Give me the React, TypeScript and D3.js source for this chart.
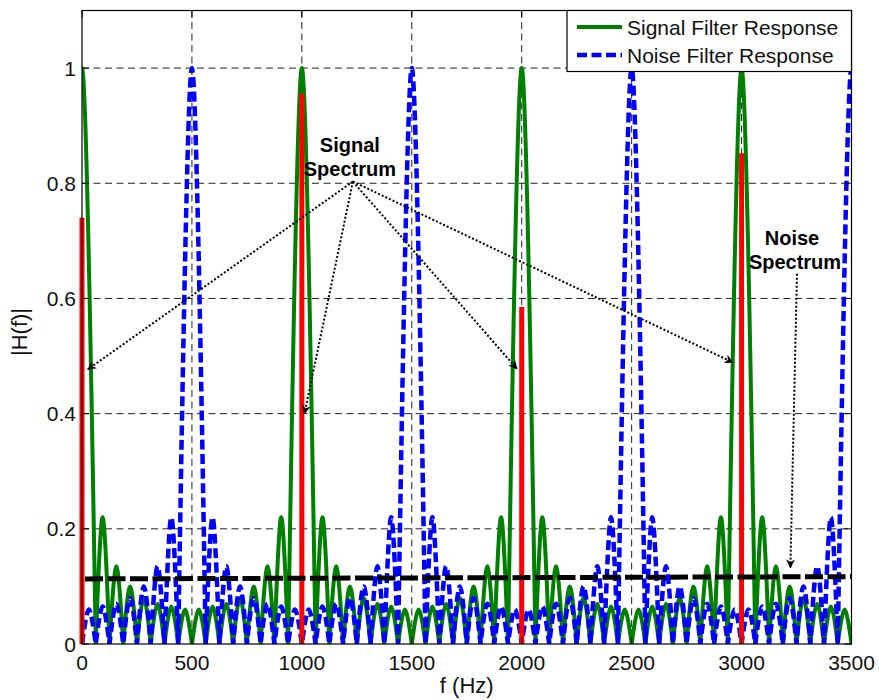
import React from "react";
import * as d3 from "d3";

const xTicks = [0, 500, 1000, 1500, 2000, 2500, 3000, 3500];
const yTicks = [0, 0.2, 0.4, 0.6, 0.8, 1];

// spacing between zeros of the filter responses (Hz); main lobes are two steps wide
const lobeStep = 62.5;

// signal filter response, lobe peaks read left to right starting at -62.5 Hz
const signalStart = -62.5;
const signalLobes = [
  1, 0.22, 0.135, 0.1, 0.08, 0.07, 0.065, 0.06, 0.06, 0.065, 0.07, 0.08, 0.1, 0.135, 0.22,
  1, 0.22, 0.135, 0.1, 0.08, 0.07, 0.065, 0.06, 0.06, 0.065, 0.07, 0.08, 0.1, 0.135, 0.22,
  1, 0.22, 0.135, 0.1, 0.08, 0.07, 0.065, 0.06, 0.06, 0.065, 0.07, 0.08, 0.1, 0.135, 0.22,
  1, 0.22, 0.135, 0.1, 0.08, 0.07, 0.065, 0.06,
];

// noise filter response, lobe peaks starting at 0 Hz
const noiseStart = 0;
const noiseLobes = [
  0.06, 0.065, 0.07, 0.08, 0.1, 0.135, 0.22,
  1, 0.22, 0.135, 0.1, 0.08, 0.07, 0.065, 0.06, 0.06, 0.065, 0.07, 0.08, 0.1, 0.135, 0.22,
  1, 0.22, 0.135, 0.1, 0.08, 0.07, 0.065, 0.06, 0.06, 0.065, 0.07, 0.08, 0.1, 0.135, 0.22,
  1, 0.22, 0.135, 0.1, 0.08, 0.07, 0.065, 0.06, 0.06, 0.065, 0.07, 0.08, 0.1, 0.135, 0.22,
  1,
];

// signal spectrum lines
const spectrumFreqs = [0, 1000, 2000, 3000];
const spectrumValues = [0.74, 0.956, 0.585, 0.852];

// noise spectrum level
const noiseFloorFreqs = [0, 3500];
const noiseFloorValues = [0.113, 0.117];

// annotation arrows (data coords): label anchor -> tips
const signalArrowFrom: [number, number] = [1232, 0.803];
const signalArrowTips: [number, number][] = [
  [27, 0.477],
  [1012, 0.4],
  [1978, 0.478],
  [2960, 0.489],
];
const noiseArrowFrom: [number, number] = [3252, 0.643];
const noiseArrowTip: [number, number] = [3222, 0.133];

const W = 879;
const H = 700;
const m = { left: 82, right: 851.5, top: 10.5, bottom: 644 };
const font = "'Liberation Sans', Arial, Helvetica, sans-serif";

const App = () => {
  const x = d3.scaleLinear().domain([0, 3500]).range([m.left, m.right]);
  const y = d3.scaleLinear().domain([0, 1.1]).range([m.bottom, m.top]);

  // each lobe drawn as an arch between two zeros
  const lobePath = (start: number, lobes: number[]) => {
    const p = d3.path();
    let f = start;
    const base = y(0);
    p.moveTo(x(f), base);
    lobes.forEach((h) => {
      const w = h > 0.9 ? 2 * lobeStep : lobeStep;
      const a = x(f);
      const b = x(f + w);
      const pw = b - a;
      const top = y(h);
      const c1 = base + (top - base) * 0.5;
      p.bezierCurveTo(a + 0.17 * pw, c1, a + 0.36 * pw, top, a + pw / 2, top);
      p.bezierCurveTo(b - 0.36 * pw, top, b - 0.17 * pw, c1, b, base);
      f += w;
    });
    return p.toString();
  };

  const floorLine = d3
    .line<number>()
    .x((d, i) => x(noiseFloorFreqs[i]))
    .y((d) => y(d));

  return (
    <svg
      width={W}
      height={H}
      style={{ position: "absolute", left: 0, top: 0, background: "#fff" }}
      fontFamily={font}
    >
      <defs>
        <clipPath id="plot">
          <rect x={m.left} y={m.top} width={m.right - m.left} height={m.bottom - m.top} />
        </clipPath>
        <marker
          id="head"
          viewBox="0 0 10 10"
          refX="9"
          refY="5"
          markerWidth="9"
          markerHeight="9"
          markerUnits="userSpaceOnUse"
          orient="auto"
        >
          <path d="M0,0 L10,5 L0,10 L3,5 Z" fill="#000" />
        </marker>
      </defs>

      {/* grid */}
      {xTicks.slice(1, -1).map((t) => (
        <line
          key={"gx" + t}
          x1={x(t)}
          x2={x(t)}
          y1={m.top}
          y2={m.bottom}
          stroke="#222"
          strokeWidth={1}
          strokeDasharray="7,4.5"
        />
      ))}
      {yTicks.slice(1).map((t) => (
        <line
          key={"gy" + t}
          x1={m.left}
          x2={m.right}
          y1={y(t)}
          y2={y(t)}
          stroke="#222"
          strokeWidth={1}
          strokeDasharray="7,4.5"
        />
      ))}

      <g clipPath="url(#plot)">
        <path d={lobePath(signalStart, signalLobes)} fill="none" stroke="#008000" strokeWidth={4} />
        <path
          d={lobePath(noiseStart, noiseLobes)}
          fill="none"
          stroke="#0000ff"
          strokeWidth={4.5}
          strokeDasharray="10,4.5"
        />
      </g>

      {/* signal spectrum */}
      {spectrumFreqs.map((f, i) => (
        <line
          key={"s" + f}
          x1={x(f)}
          x2={x(f)}
          y1={y(0)}
          y2={y(spectrumValues[i])}
          stroke="#ff0000"
          strokeWidth={5}
        />
      ))}

      {/* noise spectrum */}
      <path
        d={floorLine(noiseFloorValues) || ""}
        fill="none"
        stroke="#000"
        strokeWidth={5}
        strokeDasharray="18,4.5"
        strokeDashoffset={-3}
      />

      {/* axes box and ticks */}
      <rect
        x={m.left}
        y={m.top}
        width={m.right - m.left}
        height={m.bottom - m.top}
        fill="none"
        stroke="#000"
        strokeWidth={1.2}
      />
      {xTicks.map((t) => (
        <g key={"tx" + t}>
          <line x1={x(t)} x2={x(t)} y1={m.bottom} y2={m.bottom - 7} stroke="#000" />
          <line x1={x(t)} x2={x(t)} y1={m.top} y2={m.top + 7} stroke="#000" />
          <text x={x(t)} y={670} textAnchor="middle" fontSize={21} fill="#111">
            {t}
          </text>
        </g>
      ))}
      {yTicks.map((t) => (
        <g key={"ty" + t}>
          <line x1={m.left} x2={m.left + 7} y1={y(t)} y2={y(t)} stroke="#000" />
          <line x1={m.right} x2={m.right - 7} y1={y(t)} y2={y(t)} stroke="#000" />
          <text x={76} y={y(t) + 7.5} textAnchor="end" fontSize={21} fill="#111">
            {t}
          </text>
        </g>
      ))}

      <text x={(m.left + m.right) / 2} y={693} textAnchor="middle" fontSize={22} fill="#111">
        f (Hz)
      </text>
      <text
        transform={`translate(27,332) rotate(-90)`}
        textAnchor="middle"
        fontSize={22}
        fill="#111"
      >
        |H(f)|
      </text>

      {/* annotations */}
      {signalArrowTips.map((tip, i) => (
        <line
          key={"a" + i}
          x1={x(signalArrowFrom[0])}
          y1={y(signalArrowFrom[1])}
          x2={x(tip[0])}
          y2={y(tip[1])}
          stroke="#000"
          strokeWidth={2}
          strokeDasharray="2,2"
          markerEnd="url(#head)"
        />
      ))}
      <text x={x(signalArrowFrom[0]) - 3} y={152} textAnchor="middle" fontSize={20} fontWeight="bold">
        Signal
      </text>
      <text x={x(signalArrowFrom[0]) - 3} y={176} textAnchor="middle" fontSize={20} fontWeight="bold">
        Spectrum
      </text>

      <line
        x1={x(noiseArrowFrom[0])}
        y1={y(noiseArrowFrom[1])}
        x2={x(noiseArrowTip[0])}
        y2={y(noiseArrowTip[1])}
        stroke="#000"
        strokeWidth={2}
        strokeDasharray="2,2"
        markerEnd="url(#head)"
      />
      <text x={792} y={245} textAnchor="middle" fontSize={20} fontWeight="bold">
        Noise
      </text>
      <text x={795} y={269} textAnchor="middle" fontSize={20} fontWeight="bold">
        Spectrum
      </text>

      {/* legend */}
      <g>
        <rect x={567} y={m.top} width={m.right - 567} height={61} fill="#fff" stroke="#000" strokeWidth={1.2} />
        <line x1={577} x2={622} y1={27} y2={27} stroke="#008000" strokeWidth={4} />
        <line x1={577} x2={622} y1={55} y2={55} stroke="#0000ff" strokeWidth={4.5} strokeDasharray="10,4.5" />
        <text x={627} y={34.5} fontSize={21} fill="#111">
          Signal Filter Response
        </text>
        <text x={627} y={62.5} fontSize={21} fill="#111">
          Noise Filter Response
        </text>
      </g>
    </svg>
  );
};

export default App;
